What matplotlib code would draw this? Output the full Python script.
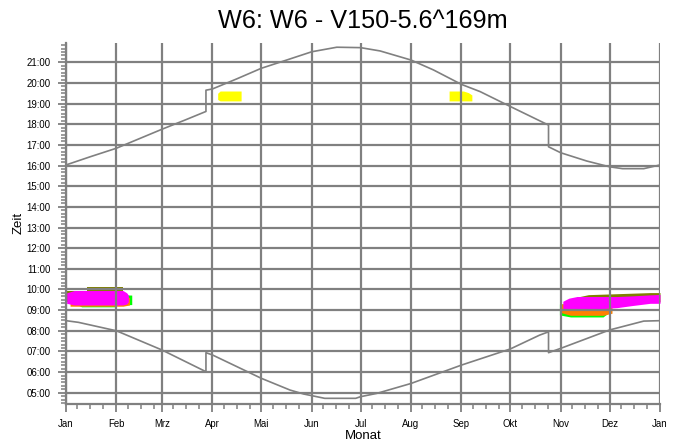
import numpy as np
import matplotlib
matplotlib.use('Agg')
import matplotlib.pyplot as plt
from matplotlib.ticker import FixedLocator, FuncFormatter

# =============================================================
# DATEN (Tag im Jahr, Uhrzeit in Stunden)
# =============================================================
MONTH_LABELS = ['Jan', 'Feb', 'Mrz', 'Apr', 'Mai', 'Jun', 'Jul',
                'Aug', 'Sep', 'Okt', 'Nov', 'Dez', 'Jan']
MONTH_START = [0, 31, 59, 90, 120, 151, 181, 212, 243, 273, 304, 334, 365]

# Sonnenuntergang
sunset_days = [0, 15, 31, 45, 59, 73, 86, 86, 90, 105, 120, 135.6, 151,
               166.4, 181, 193, 212, 225.8, 243, 254.5, 272.5, 296.5,
               296.5, 304, 320, 334, 342, 355, 365]
sunset_hours = [16.03, 16.43, 16.84, 17.30, 17.76, 18.20, 18.62, 19.65,
                19.71, 20.20, 20.71, 21.11, 21.51, 21.73, 21.71, 21.55,
                21.11, 20.63, 19.93, 19.58, 18.88, 17.96, 16.91, 16.62,
                16.22, 15.94, 15.85, 15.85, 16.03]

# Sonnenaufgang
sunrise_days = [0, 7.6, 31, 59, 86, 86, 90, 120, 137.7, 146, 151, 159,
                178, 181, 191, 212, 243, 273, 291, 296.5, 296.5, 304, 334,
                355, 365]
sunrise_hours = [8.49, 8.41, 8.00, 7.07, 6.02, 6.94, 6.83, 5.70, 5.13,
                 4.94, 4.86, 4.73, 4.73, 4.81, 4.97, 5.45, 6.34, 7.12,
                 7.79, 7.95, 6.94, 7.15, 8.04, 8.47, 8.49]

# Schattenwurf-Bereiche (Tage, untere / obere Grenze)
# Januar / Februar
jan_green_days  = [8, 9.6, 30, 31, 40.4]
jan_green_lo    = [9.22, 9.16, 9.16, 9.24, 9.27]
jan_green_hi    = [9.70, 9.70, 9.70, 9.75, 9.73]
jan_orange_days = [2.5, 35, 39]
jan_orange_lo   = [9.19, 9.19, 9.25]
jan_orange_hi   = [9.80, 9.80, 9.60]
jan_olive_days  = [0.4, 12.7, 12.7, 35.2]
jan_olive_lo    = [9.40, 9.40, 9.40, 9.40]
jan_olive_hi    = [9.92, 9.92, 10.13, 10.13]
jan_mag_days    = [0.4, 5, 35, 37.3, 38.3]
jan_mag_lo      = [9.33, 9.25, 9.25, 9.30, 9.40]
jan_mag_hi      = [9.84, 9.95, 9.95, 9.84, 9.73]

# November / Dezember
nov_green_days  = [303.2, 310, 330, 333]
nov_green_lo    = [8.77, 8.67, 8.67, 8.85]
nov_green_hi    = [9.30, 9.30, 9.30, 9.30]
nov_orange_days = [304.3, 310, 330, 335.5]
nov_orange_lo   = [8.88, 8.75, 8.75, 8.85]
nov_orange_hi   = [9.30, 9.30, 9.30, 9.30]
nov_olive_days  = [313.9, 321, 358.9, 365]
nov_olive_lo    = [9.40, 9.40, 9.40, 9.40]
nov_olive_hi    = [9.63, 9.75, 9.85, 9.85]
nov_mag_days    = [305.3, 309, 314, 338.5, 347.7, 358.9, 365]
nov_mag_lo      = [9.00, 9.00, 9.00, 9.12, 9.22, 9.33, 9.33]
nov_mag_hi      = [9.43, 9.58, 9.66, 9.66, 9.69, 9.74, 9.76]

# Abends (gelb)
apr_yel_days = [93.2, 94.7, 107.6]
apr_yel_lo   = [19.20, 19.13, 19.13]
apr_yel_hi   = [19.50, 19.61, 19.61]
sep_yel_days = [235.4, 244.2, 247.3, 249.4]
sep_yel_lo   = [19.13, 19.13, 19.13, 19.13]
sep_yel_hi   = [19.61, 19.61, 19.53, 19.42]

# =============================================================
# PLOT
# =============================================================
plt.rcParams['font.family'] = ['Liberation Sans', 'DejaVu Sans']
GRID = '#808080'

fig = plt.figure(figsize=(6.8, 4.41), dpi=100)
ax = fig.add_axes([66 / 680, 1 - 403.5 / 441, 594 / 680, 360.2 / 441])

def blob(days, lo, hi, color):
    ax.fill_between(days, lo, hi, color=color, linewidth=0, zorder=1)

blob(jan_green_days, jan_green_lo, jan_green_hi, '#00ff00')
blob(jan_orange_days, jan_orange_lo, jan_orange_hi, '#ff8000')
blob(jan_olive_days, jan_olive_lo, jan_olive_hi, '#808000')
blob(jan_mag_days, jan_mag_lo, jan_mag_hi, '#ff00ff')

blob(nov_green_days, nov_green_lo, nov_green_hi, '#00ff00')
blob(nov_orange_days, nov_orange_lo, nov_orange_hi, '#ff8000')
blob(nov_olive_days, nov_olive_lo, nov_olive_hi, '#808000')
blob(nov_mag_days, nov_mag_lo, nov_mag_hi, '#ff00ff')

blob(apr_yel_days, apr_yel_lo, apr_yel_hi, '#ffff00')
blob(sep_yel_days, sep_yel_lo, sep_yel_hi, '#ffff00')

ax.plot(sunset_days, sunset_hours, color=GRID, linewidth=1.2, zorder=3)
ax.plot(sunrise_days, sunrise_hours, color=GRID, linewidth=1.2, zorder=3)

ax.set_xlim(0, 365)
ax.set_ylim(4.48, 21.92)

# x-Achse: Monate + Zwischenstriche
minor_x = [m + off for m in MONTH_START[:-1] for off in (7, 15, 23)]
ax.xaxis.set_major_locator(FixedLocator(MONTH_START))
ax.xaxis.set_minor_locator(FixedLocator(minor_x))
ax.set_xticklabels(MONTH_LABELS)

# y-Achse: Stunden + 10-Minuten-Striche
ax.yaxis.set_major_locator(FixedLocator(range(5, 22)))
ax.yaxis.set_minor_locator(FixedLocator(np.arange(4.5, 21.95, 1 / 6)))
ax.yaxis.set_major_formatter(FuncFormatter(lambda v, p: f'{int(round(v)):02d}:00'))

ax.grid(True, which='major', color=GRID, linewidth=1.6)
ax.set_axisbelow(False)

for s in ('top', 'right'):
    ax.spines[s].set_visible(False)
for s in ('left', 'bottom'):
    ax.spines[s].set_color(GRID)
    ax.spines[s].set_linewidth(1.6)

ax.tick_params(which='major', direction='out', length=6, width=1.3,
               color=GRID, labelsize=6.9, labelcolor='black', pad=5)
ax.tick_params(which='minor', direction='out', length=3.5, width=1.1,
               color=GRID)

ax.set_xlabel('Monat', fontsize=9.5, labelpad=1)
ax.set_ylabel('Zeit', fontsize=9.5, labelpad=1)
ax.set_title('W6: W6 - V150-5.6^169m', fontsize=18.2, pad=11)

fig.savefig('out.png', dpi=100)
